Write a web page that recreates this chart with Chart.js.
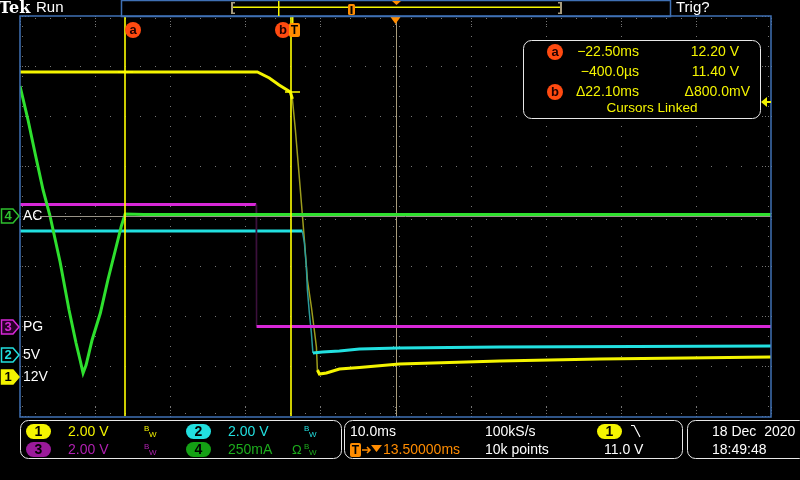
<!DOCTYPE html>
<html>
<head>
<meta charset="utf-8">
<title>Tek scope capture</title>
<script src="https://cdn.jsdelivr.net/npm/chart.js@4.4.1/dist/chart.umd.min.js"></script>
<style>
html, body { margin: 0; padding: 0; background: #000; }
canvas { display: block; }
</style>
</head>
<body>
<canvas id="scope" width="800" height="480"></canvas>
<script>
// horizontal: 10.0 ms/div, 10 divisions, trigger delay 13.50 ms at centre
var timeMin = -36.5, timeMax = 63.5;

// CH1  12V rail, 2.00 V/div
var ch1Time  = [-36.5, -4.9, -3.3, -2.0, -0.5, -0.23, 0.17, 0.83, 0.97, 1.37, 1.77, 2.3, 2.57, 2.97, 3.1, 3.37, 4.3, 6.03, 8.7, 14.0, 27.4, 40.7, 63.5];
var ch1Volts = [12.2, 12.2, 11.96, 11.68, 11.4, 11.12, 9.88, 7.48, 6.96, 5.48, 3.88, 2.8, 2.16, 1.2, 0.28, 0.12, 0.16, 0.32, 0.38, 0.52, 0.64, 0.72, 0.8];

// CH2  5V rail, 2.00 V/div
var ch2Time  = [-36.5, 1.1, 1.37, 1.63, 1.77, 2.03, 2.3, 2.5, 3.77, 6.03, 8.7, 14.0, 27.4, 63.5];
var ch2Volts = [4.96, 4.96, 4.48, 3.52, 2.6, 1.68, 0.88, 0.08, 0.12, 0.16, 0.24, 0.28, 0.32, 0.36];

// CH3  PG, 2.00 V/div
var ch3Time  = [-36.5, -5.05, -5.0, 63.5];
var ch3Volts = [4.9, 4.9, 0.02, 0.02];

// CH4  AC current, 250 mA/div
var ch4Time = [-36.5, -35.43, -34.5, -33.43, -32.5, -31.16, -29.97, -29.04, -28.5, -28.1, -27.7, -26.9, -25.8, -24.8, -23.8, -23.0, -22.5, -20.0, 63.5];
var ch4Amps = [0.65, 0.48, 0.315, 0.13, 0.0, -0.23, -0.47, -0.635, -0.72, -0.785, -0.745, -0.62, -0.485, -0.32, -0.17, -0.05, 0.01, 0.008, 0.008];

// channel ground position (divisions above the bottom) and scale per division
var chPos   = [0.78, 1.22, 1.78, 4.0];
var chScale = [2, 2, 2, 0.25];

// cursors
var cursorTime  = [-22.5, -0.4];
var cursorVolts = [12.2, 11.4];
var trigLevel   = 11.0;

var YEL = '#f4f400', CYN = '#22e0e0', MAG = '#d828d8', GRN = '#2ee02e';
var FONT = '"Liberation Sans", "DejaVu Sans", sans-serif';

function pairs(xs, ys) {
    return xs.map(function (x, i) { return { x: x, y: ys[i] }; });
}

// fast edges are drawn sparse and dim on the scope
function steep(dimValue) {
    return function (c) {
        var dx = Math.abs(c.p1.x - c.p0.x), dy = Math.abs(c.p1.y - c.p0.y);
        return (dy > 8 && dy > 3 * dx) ? dimValue : undefined;
    };
}

function trace(label, xs, ys, color, dim, axis) {
    return {
        label: label, data: pairs(xs, ys), yAxisID: axis,
        borderColor: color, borderWidth: 3, pointRadius: 0, tension: 0,
        segment: dim ? { borderColor: steep(dim), borderWidth: steep(1.5) } : undefined
    };
}

function yAxis(i) {
    return { type: 'linear', display: false,
             min: -chPos[i] * chScale[i], max: (8 - chPos[i]) * chScale[i] };
}

function text(ctx, s, x, y, color, size, align, weight, family) {
    ctx.font = (weight || '') + ' ' + (size || 14) + 'px ' + (family || FONT);
    ctx.fillStyle = color;
    ctx.textAlign = align || 'left';
    ctx.textBaseline = 'middle';
    ctx.fillText(s, x, y);
}

function roundRect(ctx, x, y, w, h, r) {
    ctx.beginPath();
    ctx.moveTo(x + r, y);
    ctx.arcTo(x + w, y, x + w, y + h, r);
    ctx.arcTo(x + w, y + h, x, y + h, r);
    ctx.arcTo(x, y + h, x, y, r);
    ctx.arcTo(x, y, x + w, y, r);
    ctx.closePath();
}

function pill(ctx, cx, cy, fill, label, labelColor) {
    roundRect(ctx, cx - 12.5, cy - 7.5, 25, 15, 7.5);
    ctx.fillStyle = fill; ctx.fill();
    text(ctx, label, cx, cy + 0.5, labelColor, 14, 'center', 'bold');
}

function bw(ctx, x, y, color) {
    text(ctx, 'B', x, y - 3, color, 8);
    text(ctx, 'W', x + 5, y + 3, color, 8);
}

function circleLabel(ctx, cx, cy, s) {
    ctx.beginPath(); ctx.arc(cx, cy, 8, 0, Math.PI * 2);
    ctx.fillStyle = '#ff4a10'; ctx.fill();
    text(ctx, s, cx, cy, '#200000', 13, 'center', 'bold');
}

function chMarker(ctx, y, n, stroke, fill, numColor) {
    ctx.beginPath();
    ctx.moveTo(1.5, y - 7); ctx.lineTo(13, y - 7); ctx.lineTo(19, y);
    ctx.lineTo(13, y + 7); ctx.lineTo(1.5, y + 7); ctx.closePath();
    ctx.fillStyle = fill; ctx.fill();
    ctx.lineWidth = 1.5; ctx.strokeStyle = stroke; ctx.stroke();
    text(ctx, n, 8, y + 0.5, numColor, 13, 'center', 'bold');
}

var scopePlugin = {
    id: 'scope',
    beforeDatasetsDraw: function (chart) {
        var ctx = chart.ctx, a = chart.chartArea;
        var L = a.left, R = a.right, T = a.top, B = a.bottom;
        var dx = (R - L) / 10, dy = (B - T) / 8, m, k, x, y;
        ctx.save();
        ctx.fillStyle = '#767676';
        for (k = 1; k < 8; k++) {
            y = Math.round(T + k * dy);
            for (m = 0; m <= 50; m++) ctx.fillRect(Math.round(L + m * dx / 5), y, 1, 1);
        }
        for (k = 1; k < 10; k++) {
            x = Math.round(L + k * dx);
            for (m = 0; m <= 40; m++) ctx.fillRect(x, Math.round(T + m * dy / 5), 1, 1);
        }
        var cx = Math.round(L + 5 * dx), cy = Math.round(T + 4 * dy);
        for (m = 0; m <= 40; m++) {
            y = Math.round(T + m * dy / 5);
            ctx.fillRect(cx - 3, y, 1, 1); ctx.fillRect(cx + 3, y, 1, 1);
        }
        for (m = 0; m <= 50; m++) {
            x = Math.round(L + m * dx / 5);
            ctx.fillRect(x, cy - 3, 1, 1); ctx.fillRect(x, cy + 3, 1, 1);
        }
        // edge ticks
        for (m = 0; m <= 50; m++) {
            x = Math.round(L + m * dx / 5);
            ctx.fillRect(x, T + 2, 1, 1); ctx.fillRect(x, B - 3, 1, 1);
            if (m % 5 === 0) { ctx.fillRect(x, T + 5, 1, 1); ctx.fillRect(x, T + 8, 1, 1); ctx.fillRect(x, B - 6, 1, 1); ctx.fillRect(x, B - 9, 1, 1); }
        }
        for (m = 0; m <= 40; m++) {
            y = Math.round(T + m * dy / 5);
            ctx.fillRect(L + 2, y, 1, 1); ctx.fillRect(R - 3, y, 1, 1);
            if (m % 5 === 0) { ctx.fillRect(L + 5, y, 1, 1); ctx.fillRect(L + 8, y, 1, 1); ctx.fillRect(R - 6, y, 1, 1); ctx.fillRect(R - 9, y, 1, 1); }
        }
        // trigger position line
        ctx.strokeStyle = '#a89c7c'; ctx.lineWidth = 1;
        ctx.beginPath(); ctx.moveTo(cx + 0.5, T); ctx.lineTo(cx + 0.5, B); ctx.stroke();
        ctx.restore();
    },
    afterDatasetsDraw: function (chart) {
        var ctx = chart.ctx, a = chart.chartArea, sx = chart.scales.x;
        var L = a.left, R = a.right, T = a.top, B = a.bottom;
        ctx.save();

        // CH4 reference line
        var y4 = Math.round(chart.scales.y4.getPixelForValue(0)) + 0.5;
        ctx.strokeStyle = '#9a9488'; ctx.lineWidth = 1;
        ctx.beginPath(); ctx.moveTo(40, y4); ctx.lineTo(R, y4); ctx.stroke();

        // frame
        ctx.strokeStyle = '#3f70b4'; ctx.lineWidth = 1.5;
        ctx.strokeRect(L, T, R - L, B - T + 1);

        // cursors
        var xa = Math.round(sx.getPixelForValue(cursorTime[0]));
        var xb = Math.round(sx.getPixelForValue(cursorTime[1]));
        var s1 = chart.scales.y1;
        ctx.strokeStyle = '#ffff00'; ctx.lineWidth = 1.6;
        ctx.beginPath();
        ctx.moveTo(xa, T); ctx.lineTo(xa, B);
        ctx.moveTo(xb, T); ctx.lineTo(xb, B);
        var ya = Math.round(s1.getPixelForValue(cursorVolts[0]));
        var yb = Math.round(s1.getPixelForValue(cursorVolts[1]));
        ctx.moveTo(xa - 7, ya); ctx.lineTo(xa + 8, ya);
        ctx.moveTo(xb - 6, yb); ctx.lineTo(xb + 9, yb);
        ctx.stroke();
        circleLabel(ctx, xa + 8, 30, 'a');
        circleLabel(ctx, xb - 8, 30, 'b');
        // trigger point marker
        var x0 = Math.round(sx.getPixelForValue(0));
        ctx.fillStyle = YEL; ctx.fillRect(x0 - 2, T, 1.5, 8);
        roundRect(ctx, x0 - 5, 23, 11, 14, 2); ctx.fillStyle = '#ff8c00'; ctx.fill();
        text(ctx, 'T', x0 + 0.5, 30.5, '#000', 12, 'center', 'bold');
        // trigger position marker
        var xc = (L + R) / 2;
        ctx.fillStyle = '#ff8c00';
        ctx.beginPath(); ctx.moveTo(xc - 5, T + 1); ctx.lineTo(xc + 5, T + 1); ctx.lineTo(xc, T + 8); ctx.closePath(); ctx.fill();
        // trigger level arrow
        var yt = Math.round(s1.getPixelForValue(trigLevel));
        ctx.fillStyle = YEL;
        ctx.beginPath(); ctx.moveTo(R - 10, yt); ctx.lineTo(R - 4, yt - 5); ctx.lineTo(R - 4, yt + 5); ctx.closePath(); ctx.fill();
        ctx.fillRect(R - 5, yt - 1, 5, 2);

        // readout box
        roundRect(ctx, 523.5, 40.5, 237, 78, 8);
        ctx.fillStyle = '#000'; ctx.fill();
        ctx.strokeStyle = '#e8e8e8'; ctx.lineWidth = 1; ctx.stroke();
        circleLabel(ctx, 555, 52, 'a');
        circleLabel(ctx, 555, 92, 'b');
        text(ctx, '\u221222.50ms', 639, 52, YEL, 14, 'right');
        text(ctx, '\u2212400.0\u00b5s', 639, 72, YEL, 14, 'right');
        text(ctx, '\u039422.10ms', 639, 92, YEL, 14, 'right');
        text(ctx, '12.20 V', 739, 52, YEL, 14, 'right');
        text(ctx, '11.40 V', 739, 72, YEL, 14, 'right');
        text(ctx, '\u0394800.0mV', 750, 92, YEL, 14, 'right');
        text(ctx, 'Cursors Linked', 652, 108, YEL, 13.5, 'center');

        // channel markers
        chMarker(ctx, Math.round(chart.scales.y4.getPixelForValue(0)), '4', '#2ec02e', '#000', '#2ec02e');
        chMarker(ctx, Math.round(chart.scales.y3.getPixelForValue(0)), '3', MAG, '#2a002a', MAG);
        chMarker(ctx, Math.round(chart.scales.y2.getPixelForValue(0)), '2', CYN, '#000', CYN);
        chMarker(ctx, Math.round(s1.getPixelForValue(0)), '1', YEL, YEL, '#000');
        text(ctx, 'AC', 23, Math.round(chart.scales.y4.getPixelForValue(0)), '#fff', 14);
        text(ctx, 'PG', 23, Math.round(chart.scales.y3.getPixelForValue(0)), '#fff', 14);
        text(ctx, '5V', 23, Math.round(chart.scales.y2.getPixelForValue(0)), '#fff', 14);
        text(ctx, '12V', 23, Math.round(s1.getPixelForValue(0)), '#fff', 14);

        // top bar
        text(ctx, 'Tek', -1, 9, '#fff', 16, 'left', 'bold', '"DejaVu Serif", serif');
        text(ctx, 'Run', 36, 8, '#fff', 15);
        text(ctx, 'Trig?', 676, 8, '#fff', 15);
        ctx.strokeStyle = '#3f70b4'; ctx.lineWidth = 1.5;
        ctx.strokeRect(121.5, 0.5, 549, 16);
        ctx.fillStyle = YEL; ctx.fillRect(233, 6.5, 328, 1.5);
        ctx.fillRect(278, 1, 1.5, 15);
        ctx.fillStyle = '#a89c7c';
        ctx.fillRect(231, 2, 2, 12); ctx.fillRect(231, 2, 4, 1.5); ctx.fillRect(231, 12.5, 4, 1.5);
        ctx.fillRect(560, 2, 2, 12); ctx.fillRect(558, 2, 4, 1.5); ctx.fillRect(558, 12.5, 4, 1.5);
        roundRect(ctx, 348, 4, 7, 11, 1.5); ctx.fillStyle = '#ff8c00'; ctx.fill();
        ctx.fillStyle = '#000'; ctx.fillRect(350.5, 6, 2, 8);
        ctx.fillStyle = '#ff8c00';
        ctx.beginPath(); ctx.moveTo(392, 1); ctx.lineTo(401, 1); ctx.lineTo(396.5, 5); ctx.closePath(); ctx.fill();

        // bottom info boxes
        ctx.strokeStyle = '#e8e8e8'; ctx.lineWidth = 1;
        roundRect(ctx, 20.5, 420.5, 321, 38, 8); ctx.stroke();
        roundRect(ctx, 344.5, 420.5, 338, 38, 8); ctx.stroke();
        roundRect(ctx, 687.5, 420.5, 120, 38, 8); ctx.stroke();

        pill(ctx, 38.5, 431.5, YEL, '1', '#000');
        text(ctx, '2.00 V', 68, 432, YEL, 14);
        bw(ctx, 144, 432, YEL);
        pill(ctx, 198.5, 431.5, CYN, '2', '#000');
        text(ctx, '2.00 V', 228, 432, CYN, 14);
        bw(ctx, 304, 432, CYN);
        pill(ctx, 38.5, 449.5, '#9a1a9a', '3', '#000');
        text(ctx, '2.00 V', 68, 450, '#b020b0', 14);
        bw(ctx, 144, 450, '#b020b0');
        pill(ctx, 198.5, 449.5, '#14a014', '4', '#000');
        text(ctx, '250mA', 228, 450, '#1cac1c', 14);
        text(ctx, '\u03a9', 292, 450, '#1cac1c', 13);
        bw(ctx, 304, 450, '#1cac1c');

        text(ctx, '10.0ms', 350, 432, '#fff', 14);
        roundRect(ctx, 350, 443, 11, 14, 2); ctx.fillStyle = '#ff8c00'; ctx.fill();
        text(ctx, 'T', 355.5, 450.5, '#000', 12, 'center', 'bold');
        ctx.strokeStyle = '#ff8c00'; ctx.lineWidth = 1.5;
        ctx.beginPath(); ctx.moveTo(362, 450); ctx.lineTo(370, 450); ctx.moveTo(367, 447); ctx.lineTo(370, 450); ctx.lineTo(367, 453); ctx.stroke();
        ctx.fillStyle = '#ff8c00';
        ctx.beginPath(); ctx.moveTo(371, 445); ctx.lineTo(382, 445); ctx.lineTo(376.5, 452); ctx.closePath(); ctx.fill();
        text(ctx, '13.50000ms', 383, 450, '#ff8c00', 14);
        text(ctx, '100kS/s', 485, 432, '#fff', 14);
        text(ctx, '10k points', 485, 450, '#fff', 14);
        pill(ctx, 609.5, 431.5, YEL, '1', '#000');
        ctx.strokeStyle = '#fff'; ctx.lineWidth = 1.2;
        ctx.beginPath(); ctx.moveTo(631, 425.5); ctx.lineTo(634, 425.5); ctx.lineTo(640, 437); ctx.stroke();
        text(ctx, '11.0 V', 604, 450, '#fff', 14);

        text(ctx, '18 Dec  2020', 712, 432, '#fff', 14);
        text(ctx, '18:49:48', 712, 450, '#fff', 14);
        ctx.restore();
    }
};

new Chart(document.getElementById('scope'), {
    type: 'line',
    data: {
        datasets: [
            trace('4', ch4Time, ch4Amps, GRN, null, 'y4'),
            trace('3', ch3Time, ch3Volts, MAG, '#3c103c', 'y3'),
            trace('2', ch2Time, ch2Volts, CYN, '#2a9c9c', 'y2'),
            trace('1', ch1Time, ch1Volts, YEL, '#9c9c1c', 'y1')
        ]
    },
    options: {
        responsive: false, animation: false,
        layout: { padding: { left: 20, top: 16, right: 29, bottom: 64 } },
        plugins: { legend: { display: false }, tooltip: { enabled: false } },
        scales: {
            x: { type: 'linear', display: false, min: timeMin, max: timeMax },
            y1: yAxis(0), y2: yAxis(1), y3: yAxis(2), y4: yAxis(3)
        }
    },
    plugins: [scopePlugin]
});
</script>
</body>
</html>
